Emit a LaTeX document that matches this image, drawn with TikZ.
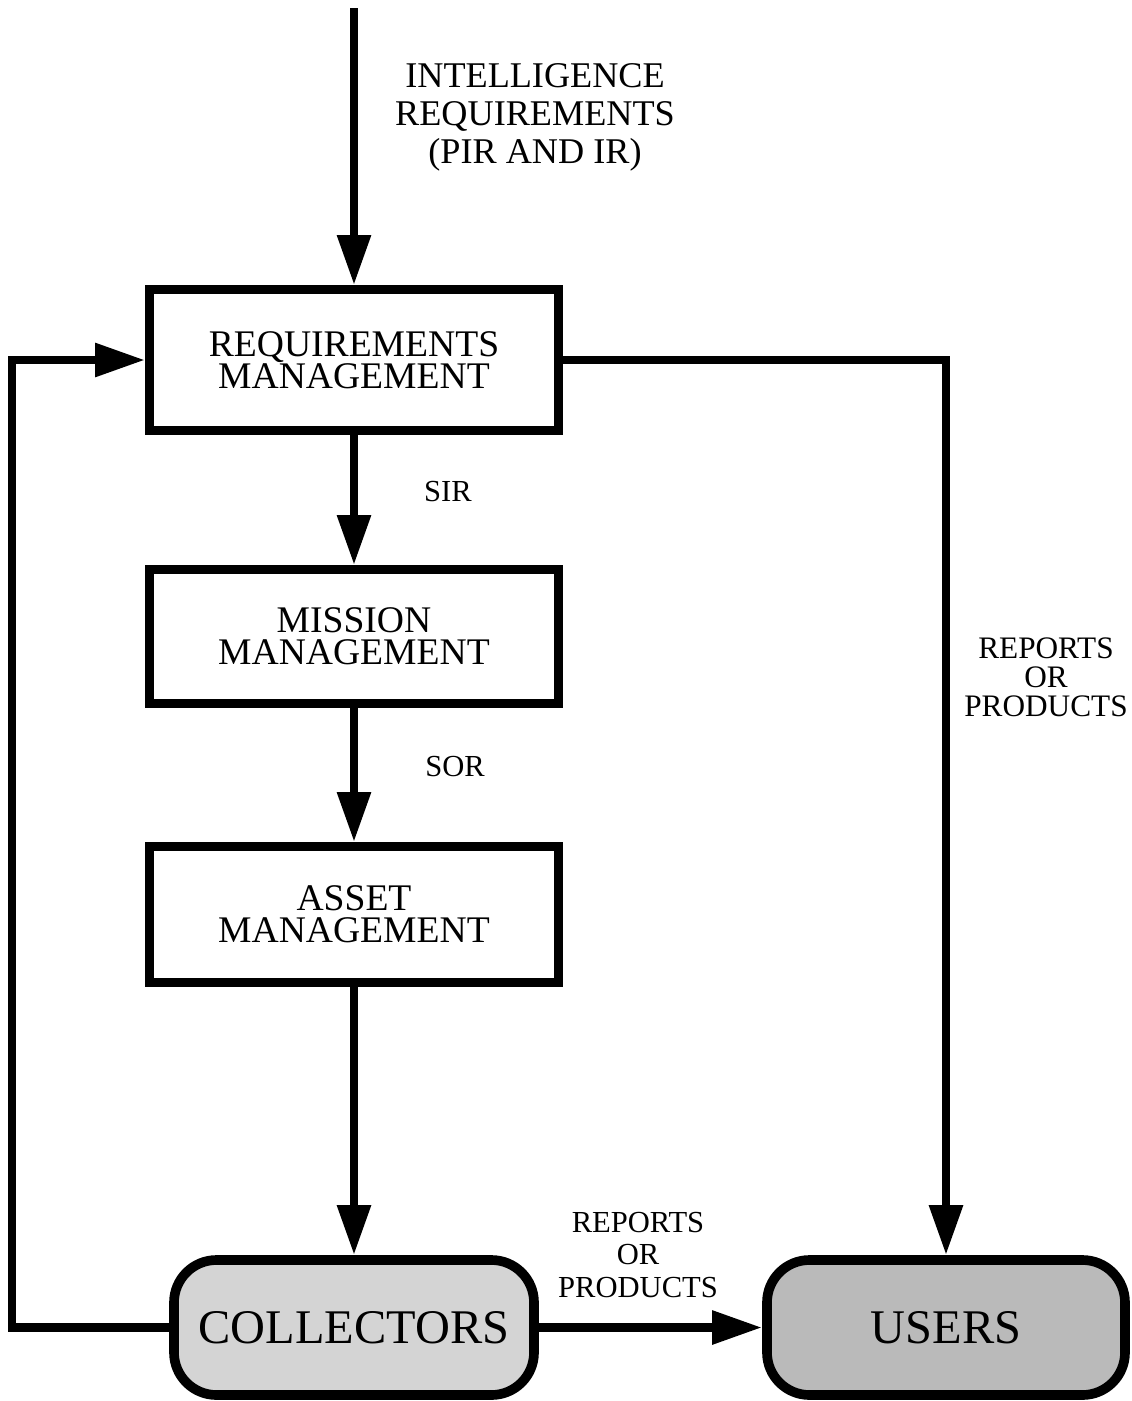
\documentclass[tikz,border=0pt]{standalone}
\usepackage{fontspec}
\setmainfont{Liberation Serif}
\usetikzlibrary{arrows.meta,positioning}

\begin{document}
\begin{tikzpicture}[>={Triangle[length=1cm,width=0.64cm]}, line width=5pt]

	\tikzset{
		tbox/.style = {rectangle, draw, line width=5pt, minimum width=8.18cm,
			align=center, font=\fontsize{21.4}{18.1}\selectfont},
		tend/.style = {rectangle, rounded corners=0.85cm, draw, line width=5.5pt,
			minimum width=7.2cm, minimum height=2.7cm, font=\fontsize{27.5}{30}\selectfont},
		tlabel/.style = {align=center, font=\fontsize{17.4}{17}\selectfont}
	}

	\useasboundingbox (0,0) rectangle (22.62,-28.02);

	\node[tbox, minimum height=2.82cm] (req) at (7.08,-7.2) {REQUIREMENTS\\MANAGEMENT};
	\node[tbox, minimum height=2.68cm] (mis) at (7.08,-12.73) {MISSION\\MANAGEMENT};
	\node[tbox, minimum height=2.72cm] (ast) at (7.08,-18.29) {ASSET\\MANAGEMENT};
	\node[tend, fill=black!17] (col) at (7.08,-26.55) {COLLECTORS};
	\node[tend, fill=black!27, minimum width=7.16cm] (usr) at (18.92,-26.55) {USERS};

	\coordinate (top) at (7.08,-0.16);
	\coordinate (lft) at (0.24,-26.55);

	% labels
	\node[tlabel, font=\fontsize{20.6}{21.6}\selectfont] (ir) at (10.7,-2.34) {INTELLIGENCE\\REQUIREMENTS\\(PIR AND IR)};
	\node[tlabel] (sir) at (8.96,-9.84) {SIR};
	\node[tlabel] (sor) at (9.1,-15.34) {SOR};
	\node[tlabel, font=\fontsize{17.8}{16.6}\selectfont] (rp1) at (20.92,-13.54) {REPORTS\\OR\\PRODUCTS};
	\node[tlabel, font=\fontsize{17.4}{18.5}\selectfont] (rp2) at (12.76,-25.1) {REPORTS\\OR\\PRODUCTS};

	\draw[->] (top) -- (req);
	\draw[->] (req) -- (mis);
	\draw[->] (mis) -- (ast);
	\draw[->] (ast) -- (col);
	\draw[->] (col) -- (usr);
	\draw[->] (req.east) -| (usr.north);
	\draw[->] (col.west) -- (lft) |- (req.west);

\end{tikzpicture}
\end{document}
